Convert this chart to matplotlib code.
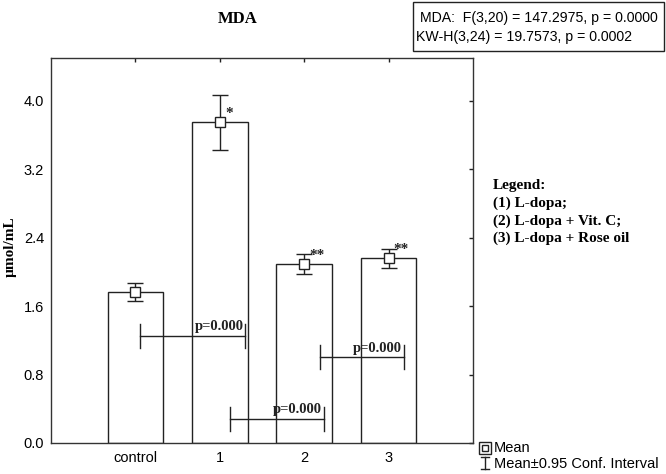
import matplotlib
matplotlib.use("Agg")
import matplotlib.pyplot as plt
from matplotlib.patches import Rectangle
from matplotlib.lines import Line2D

categories = ["control", "1", "2", "3"]
means = [1.77, 3.75, 2.09, 2.16]
ci = [0.105, 0.32, 0.12, 0.11]
stars = ["", "*", "**", "**"]

# p-value brackets: y level, x start, x end (data units), label
br_y = [1.25, 0.28, 1.00]
br_x0 = [0.05, 1.12, 2.19]
br_x1 = [1.30, 2.23, 3.18]
br_labels = ["p=0.000", "p=0.000", "p=0.000"]

yticks = [0.0, 0.8, 1.6, 2.4, 3.2, 4.0]

serif = "Liberation Serif"
sans = "Liberation Sans"

W, H = 666, 474
fig = plt.figure(figsize=(W / 100, H / 100), dpi=100)
ax = fig.add_axes([51 / W, 1 - 443 / H, (473 - 51) / W, (443 - 58) / H])

x = list(range(len(categories)))
ax.bar(x, means, width=0.66, color="white", edgecolor="#222222", linewidth=1.0, zorder=2)
ax.errorbar(x, means, yerr=ci, fmt="s", mfc="white", mec="#222222", mew=1.0, ms=7,
            ecolor="#222222", elinewidth=1.0, capsize=6, capthick=1.0, zorder=3)
for xi, m, s in zip(x, means, stars):
    if s:
        ax.text(xi + 0.06, m + 0.03, s, fontsize=11, family=serif, fontweight="bold",
                ha="left", va="bottom", color="#222222", zorder=4)

cap = 0.14
for y, x0, x1, lab in zip(br_y, br_x0, br_x1, br_labels):
    ax.plot([x0, x1], [y, y], color="#222222", lw=1.0, zorder=4)
    ax.plot([x0, x0], [y - cap, y + cap], color="#222222", lw=1.0, zorder=4)
    ax.plot([x1, x1], [y - cap, y + cap], color="#222222", lw=1.0, zorder=4)
    ax.text(x1 - 0.02, y + 0.03, lab, fontsize=10.5, family=serif, fontweight="bold",
            ha="right", va="bottom", color="#222222", zorder=5)

ax.set_xlim(-1, 4)
ax.set_ylim(0, 4.5)
ax.set_xticks(x)
ax.set_xticklabels(categories, fontsize=10.5, family=sans)
ax.set_yticks(yticks)
ax.set_yticklabels([f"{v:.1f}" for v in yticks], fontsize=10.5, family=sans)
ax.tick_params(axis="both", direction="in", length=3, width=1, color="#222222",
               top=True, right=True, bottom=True, left=False)
ax.tick_params(axis="x", pad=6)
ax.tick_params(axis="y", pad=5)
for sp in ax.spines.values():
    sp.set_linewidth(1.0)
    sp.set_color("#333333")

fig.text(10 / W, 1 - 247 / H, "µmol/mL", fontsize=11, family=serif, fontweight="bold",
         rotation=90, ha="center", va="center")

fig.text(238 / W, 1 - 19 / H, "MDA", fontsize=12, family=serif, fontweight="bold",
         ha="center", va="center")

# stats box
fig.patches.append(Rectangle((413 / W, 1 - 51 / H), (664 - 413) / W, 49 / H,
                             transform=fig.transFigure, fill=False, ec="#222222", lw=1.0))
fig.text(420 / W, 1 - 18 / H, "MDA:  F(3,20) = 147.2975, p = 0.0000", fontsize=10.2,
         family=sans, ha="left", va="center")
fig.text(416 / W, 1 - 37 / H, "KW-H(3,24) = 19.7573, p = 0.0002", fontsize=10.2,
         family=sans, ha="left", va="center")

# custom legend text
leg_lines = ["Legend:", "(1) L-dopa;", "(2) L-dopa + Vit. C;", "(3) L-dopa + Rose oil"]
for i, t in enumerate(leg_lines):
    fig.text(493 / W, 1 - (186 + i * 17.5) / H, t, fontsize=11, family=serif,
             fontweight="bold", ha="left", va="center")

# bottom-right legend
mx = 485 / W
fig.add_artist(Line2D([mx], [1 - 448 / H], marker="s", ms=9, mfc="white", mec="#222222",
                      mew=1.0, transform=fig.transFigure))
fig.add_artist(Line2D([mx], [1 - 448 / H], marker="s", ms=5, mfc="white", mec="#222222",
                      mew=1.0, transform=fig.transFigure))
fig.add_artist(Line2D([mx, mx], [1 - 457 / H, 1 - 469 / H], color="#222222", lw=1.0,
                      transform=fig.transFigure))
fig.add_artist(Line2D([mx - 4 / W, mx + 4 / W], [1 - 457 / H, 1 - 457 / H], color="#222222",
                      lw=1.0, transform=fig.transFigure))
fig.add_artist(Line2D([mx - 4 / W, mx + 4 / W], [1 - 469 / H, 1 - 469 / H], color="#222222",
                      lw=1.0, transform=fig.transFigure))
fig.text(494 / W, 1 - 448 / H, "Mean", fontsize=10.5, family=sans, ha="left", va="center")
fig.text(494 / W, 1 - 464 / H, "Mean±0.95 Conf. Interval", fontsize=10.5, family=sans,
         ha="left", va="center")

fig.savefig("out.png", dpi=100)
